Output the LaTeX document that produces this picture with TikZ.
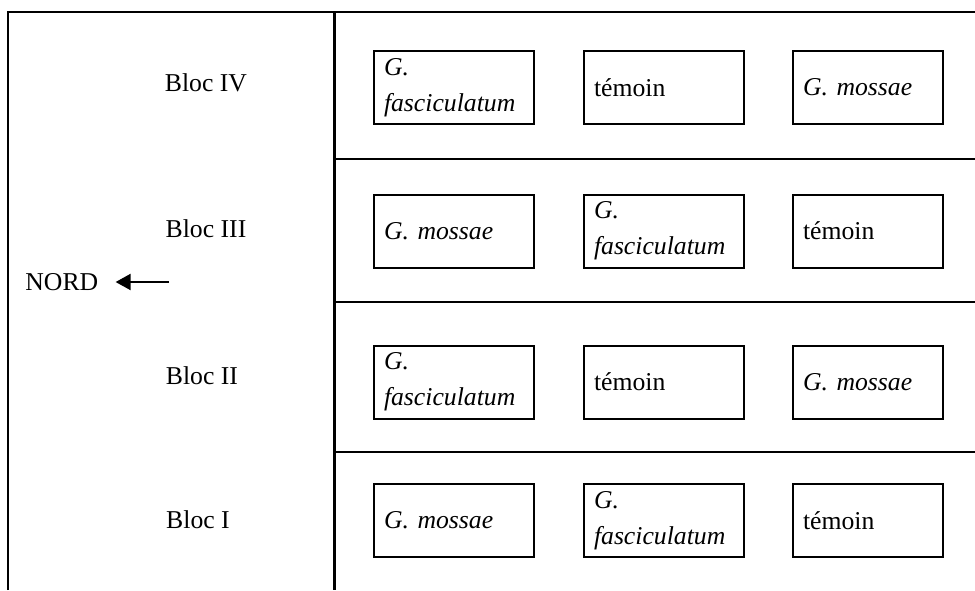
\documentclass[tikz,border=0pt]{standalone}
\usepackage{fontspec}
\setmainfont{Liberation Serif}
\usetikzlibrary{arrows.meta}

\tikzstyle{parcelle} = [rectangle, minimum width=80pt, minimum height=36.5pt, text width=70pt, inner xsep=5pt, inner ysep=0pt, align=left, draw=black, line width=1pt, fill=none]
\tikzstyle{parcellebis} = [parcelle, minimum width=75pt, text width=65pt]
\tikzstyle{bloc} = [text centered, inner sep=0pt]
\tikzstyle{border} = [line width=1pt]
\tikzstyle{arrow} = [line width=1pt, -{Triangle[length=7.5pt,width=8pt]}]

\begin{document}
\begin{tikzpicture}[x=0.5pt, y=-0.5pt, node distance=105pt, font=\fontsize{12.85}{18}\selectfont]
        \useasboundingbox (0,0) rectangle (975,590);

        % cadre et separations des blocs
        \draw [border] (8,590) -- (8,12) -- (975,12);
        \draw [border, line width=1.5pt] (334,12) -- (334,590);
        \foreach \y in {159,302,452}
            \draw [border] (334,\y) -- (975,\y);

        \node (Bloc IV) [bloc] at (206,83) {Bloc IV};
        \node (Bloc III) [bloc] at (206,228.5) {Bloc III};
        \node (Bloc II) [bloc] at (202,375.5) {Bloc II};
        \node (Bloc I) [bloc] at (198,520) {Bloc I};

        \node (Nord) [bloc, anchor=west] at (25,282) {NORD};
        \coordinate (Nord tail) at (169,282);
        \draw [arrow, shorten >=8.5pt] (Nord tail) -- (Nord.east);

        \node (IV fasc) [parcelle] at (454,87.5) {\textit{G.}\\\textit{fasciculatum}};
        \node (IV temoin) [parcelle, right of = IV fasc] {témoin};
        \node (IV mossae) [parcellebis, right of = IV temoin, xshift=-3pt] {\textit{G. mossae}};

        \node (III mossae) [parcelle] at (454,231) {\textit{G. mossae}};
        \node (III fasc) [parcelle, right of = III mossae] {\textit{G.}\\\textit{fasciculatum}};
        \node (III temoin) [parcellebis, right of = III fasc, xshift=-3pt] {témoin};

        \node (II fasc) [parcelle] at (454,382) {\textit{G.}\\\textit{fasciculatum}};
        \node (II temoin) [parcelle, right of = II fasc] {témoin};
        \node (II mossae) [parcellebis, right of = II temoin, xshift=-3pt] {\textit{G. mossae}};

        \node (I mossae) [parcelle] at (454,520.5) {\textit{G. mossae}};
        \node (I fasc) [parcelle, right of = I mossae] {\textit{G.}\\\textit{fasciculatum}};
        \node (I temoin) [parcellebis, right of = I fasc, xshift=-3pt] {témoin};
    \end{tikzpicture}
\end{document}
